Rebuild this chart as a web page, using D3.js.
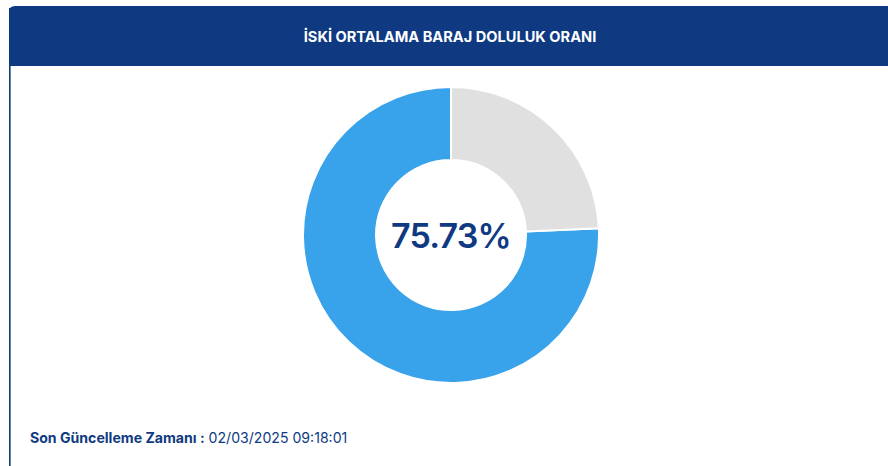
<!DOCTYPE html>
<html><head><meta charset="utf-8">
<script src="https://cdn.jsdelivr.net/npm/d3@7"></script>
<style>
html,body{margin:0;padding:0;background:#fff;}
svg{display:block;}
</style></head>
<body>
<svg id="c" width="888" height="466"></svg>
<script>
const title = "İSKİ ORTALAMA BARAJ DOLULUK ORANI";
const categories = ["Doluluk", "Boş"];
const values = [75.73, 24.27];
const colors = ["#38a2ea", "#e0e0e0"];
const footerLabel = "Son Güncelleme Zamanı :";
const footerValue = "02/03/2025 09:18:01";

const svg = d3.select("#c");
const navy = "#0f3a82";
const font = "Inter, 'Open Sans', sans-serif";

svg.append("rect").attr("x",9).attr("y",8).attr("width",1.6).attr("height",460).attr("fill",navy);
svg.append("path")
  .attr("d","M9,66 L9,12 Q9,6 15,6 L890,6 L890,66 Z")
  .attr("fill",navy);
svg.append("text").attr("x",450).attr("y",42).attr("text-anchor","middle")
  .attr("fill","#fff").attr("font-family",font).attr("font-weight",700).attr("font-size",14.6)
  .text(title);

const cx=451, cy=235, R=148, r=75;
const pie = d3.pie().sort(null).startAngle(0).endAngle(-2*Math.PI);
const arc = d3.arc().innerRadius(r).outerRadius(R);
const g = svg.append("g").attr("transform",`translate(${cx},${cy})`);
g.selectAll("path").data(pie(values)).join("path")
  .attr("d",arc).attr("fill",(d,i)=>colors[i])
  .attr("stroke","#fff").attr("stroke-width",2);
g.append("text").attr("text-anchor","middle").attr("y",12.5)
  .attr("fill",navy).attr("font-family",font).attr("font-weight",600).attr("font-size",34)
  .attr("letter-spacing",-0.8)
  .text(values[0].toFixed(2)+"%");

const ft = svg.append("text").attr("x",30).attr("y",443)
  .attr("fill",navy).attr("font-family",font).attr("font-size",14.1);
ft.append("tspan").attr("font-weight",700).text(footerLabel);
ft.append("tspan").attr("font-weight",400).text(" "+footerValue);
</script>
</body></html>
